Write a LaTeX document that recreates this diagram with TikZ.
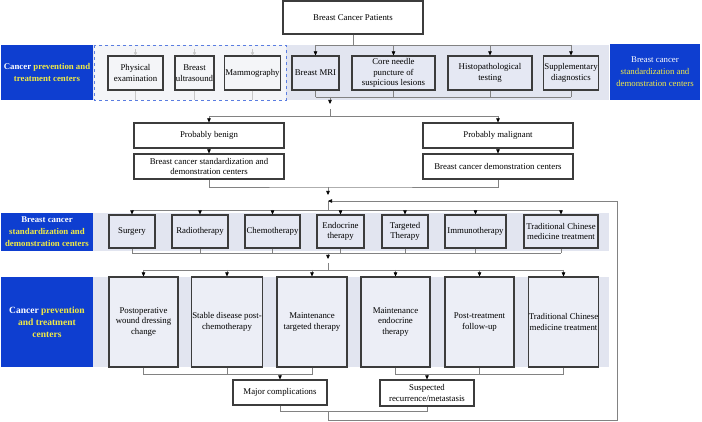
\documentclass[tikz,border=0pt]{standalone}
\usepackage{fontspec}
\setmainfont{Liberation Serif}
\usetikzlibrary{arrows.meta,calc}

\definecolor{lblblue}{RGB}{14,62,208}
\definecolor{lblyellow}{RGB}{240,234,70}
\definecolor{bandgray}{RGB}{226,229,240}
\definecolor{boxfill}{RGB}{229,232,243}
\definecolor{boxfilltwo}{RGB}{236,238,246}
\definecolor{palefill}{RGB}{244,245,248}
\definecolor{dashblue}{RGB}{90,125,225}
\definecolor{edgegray}{RGB}{60,60,60}
\definecolor{linegray}{RGB}{130,130,130}
\newcommand{\wt}[1]{\textcolor{white}{#1}}
\newcommand{\yl}[1]{\textcolor{lblyellow}{#1}}

\begin{document}
\begin{tikzpicture}[x=1pt,y=-1pt,
	box/.style={draw=edgegray,line width=1.1pt,align=center,inner sep=0.5pt,font=\fontsize{8.8}{10.5}\selectfont},
	whitebox/.style={box,fill=white},
	bandbox/.style={box,fill=boxfill},
	tallbox/.style={box,fill=boxfilltwo,minimum height=90pt},
	palebox/.style={box,fill=palefill},
	lbl/.style={fill=lblblue,align=center,inner sep=1pt,font=\fontsize{8.8}{12}\selectfont},
	conn/.style={draw=linegray,line width=0.6pt},
	faint/.style={draw=linegray!45,line width=0.6pt},
	arr/.style={conn,arrows={-Triangle[length=4pt,width=3.5pt,color=black]}},
	faintarr/.style={faint,arrows={-Triangle[length=3pt,width=3pt,color=linegray!45]}}
	]
	\useasboundingbox (0,0) rectangle (702,422);

	% background bands
	\fill[bandgray] (93,45) rectangle (609,100);
	\fill[palefill] (94,45) rectangle (286,100);
	\draw[dashblue,dashed,line width=0.9pt] (94,45) rectangle (286,100);
	\fill[bandgray] (93,213) rectangle (609,251);
	\fill[bandgray] (93,277) rectangle (609,367);

	% side labels
	\node[lbl,minimum width=92pt,minimum height=55pt] (lblA) at (47,72.5) {\textbf{\wt{Cancer} \yl{prevention and}}\\\textbf{\yl{treatment centers}}};
	\node[lbl,minimum width=90pt,minimum height=56pt] (lblB) at (655,72) {\wt{Breast cancer}\\\yl{standardization and}\\\yl{demonstration centers}};
	\node[lbl,minimum width=92pt,minimum height=38pt] (lblC) at (47,232) {\textbf{\wt{Breast cancer}}\\\textbf{\yl{standardization and}}\\\textbf{\yl{demonstration centers}}};
	\node[lbl,minimum width=92pt,minimum height=90pt,font=\fontsize{9.5}{12}\selectfont] (lblD) at (47,322) {\textbf{\wt{Cancer} \yl{prevention}}\\\textbf{\yl{and treatment}}\\\textbf{\yl{centers}}};

	% diagnosis
	\node[whitebox,minimum width=140pt,minimum height=33pt] (pat) at (353,17.5) {Breast Cancer Patients};
	\node[palebox,minimum width=55pt,minimum height=34pt] (pe) at (135.5,73) {Physical\\examination};
	\node[palebox,minimum width=39pt,minimum height=34pt] (bu) at (194.5,73) {Breast\\ultrasound};
	\node[palebox,minimum width=53pt,minimum height=34pt] (mg) at (252.5,73) {Mammography};
	\node[bandbox,minimum width=47pt,minimum height=34pt] (mri) at (315.5,73) {Breast MRI};
	\node[bandbox,minimum width=83pt,minimum height=34pt] (cn) at (393.5,73) {Core needle\\puncture of\\suspicious lesions};
	\node[bandbox,minimum width=84pt,minimum height=34pt] (hp) at (490,73) {Histopathological\\testing};
	\node[bandbox,minimum width=54pt,minimum height=34pt] (sd) at (571,73) {Supplementary\\diagnostics};

	\node[whitebox,minimum width=150pt,minimum height=25pt] (pb) at (209,135.5) {Probably benign};
	\node[whitebox,minimum width=150pt,minimum height=25pt] (pbc) at (209,166.5) {Breast cancer standardization and\\demonstration centers};
	\node[whitebox,minimum width=150pt,minimum height=25pt] (pm) at (498,135.5) {Probably malignant};
	\node[whitebox,minimum width=150pt,minimum height=25pt] (pmc) at (498,166.5) {Breast cancer demonstration centers};

	% treatment
	\node[bandbox,minimum width=46pt,minimum height=33pt] (sg) at (132,231.5) {Surgery};
	\node[bandbox,minimum width=56pt,minimum height=33pt] (rt) at (200,231.5) {Radiotherapy};
	\node[bandbox,minimum width=55pt,minimum height=33pt] (ch) at (272.5,231.5) {Chemotherapy};
	\node[bandbox,minimum width=47pt,minimum height=33pt] (en) at (340.5,231.5) {Endocrine\\therapy};
	\node[bandbox,minimum width=46pt,minimum height=33pt] (tt) at (405,231.5) {Targeted\\Therapy};
	\node[bandbox,minimum width=61pt,minimum height=33pt] (im) at (475.5,231.5) {Immunotherapy};
	\node[bandbox,minimum width=74pt,minimum height=33pt] (tcmA) at (561,231.5) {Traditional Chinese\\medicine treatment};

	% follow-up
	\node[tallbox,minimum width=69pt] (wd) at (143.5,322) {Postoperative\\wound dressing\\change};
	\node[tallbox,minimum width=70pt] (sdc) at (227,322) {Stable disease post-\\chemotherapy};
	\node[tallbox,minimum width=70pt] (mt) at (312,322) {Maintenance\\targeted therapy};
	\node[tallbox,minimum width=69pt] (me) at (395.5,322) {Maintenance\\endocrine\\therapy};
	\node[tallbox,minimum width=69pt] (fu) at (479.5,322) {Post-treatment\\follow-up};
	\node[tallbox,minimum width=69pt] (tcmB) at (563.5,322) {Traditional Chinese\\medicine treatment};

	\node[whitebox,minimum width=94pt,minimum height=25pt] (mc) at (280,392.5) {Major complications};
	\node[whitebox,minimum width=94pt,minimum height=26pt] (sr) at (427,393) {Suspected\\recurrence/metastasis};

	% connectors: diagnosis
	\coordinate (splitA) at (353,45);
	\draw[conn] (pat.south) -- (splitA);
	\draw[conn] (mri.north |- splitA) -- (sd.north |- splitA);
	\foreach \n in {mri,cn,hp,sd}
		\draw[arr] (\n.north |- splitA) -- (\n.north);
	\foreach \n in {pe,bu,mg}{
		\draw[faintarr] ($(\n.north)+(0,-6)$) -- (\n.north);
		\draw[faint] (\n.south) -- ++(0,9);
	}
	\coordinate (mergeA) at (330,97);
	\foreach \n in {mri,cn,hp,sd}
		\draw[conn] (\n.south) -- (\n.south |- mergeA);
	\draw[conn] (mri.south |- mergeA) -- (sd.south |- mergeA);
	\coordinate (tipA) at (330,104);
	\draw[arr] (mergeA) -- (tipA);
	\coordinate (splitB) at (330,109);
	\coordinate (forkB) at (330,116);
	\draw[conn] (splitB) -- (forkB);
	\draw[arr] (forkB) -| (pb.north);
	\draw[arr] (forkB) -| (pm.north);
	\draw[arr] (pb) -- (pbc);
	\draw[arr] (pm) -- (pmc);

	% connectors: treatment
	\coordinate (mergeB) at (328,187);
	\coordinate (tipB) at (328,195);
	\coordinate (loopin) at (328,201);
	\coordinate (forkC) at (328,210);
	\draw[conn] (pbc.south) |- (mergeB) -| (pmc.south);
	\draw[arr] (mergeB) -- (tipB);
	\draw[conn] (loopin) -- (forkC);
	\draw[conn] (sg.north |- forkC) -- (tcmA.north |- forkC);
	\foreach \n in {sg,rt,ch,en,tt,im,tcmA}{
		\draw[arr] (\n.north |- forkC) -- (\n.north);
		\draw[conn] (\n.south) -- ++(0,4.5);
	}
	\coordinate (mergeC) at (328,253);
	\draw[conn] (sg.south |- mergeC) -- (tcmA.south |- mergeC);
	\coordinate (tipC) at (328,259);
	\draw[arr] (mergeC) -- (tipC);

	% connectors: follow-up
	\coordinate (splitD) at (328,263);
	\coordinate (forkD) at (328,270);
	\draw[conn] (splitD) -- (forkD);
	\draw[conn] (wd.north |- forkD) -- (tcmB.north |- forkD);
	\foreach \n in {wd,sdc,mt,me,fu,tcmB}{
		\draw[arr] (\n.north |- forkD) -- (\n.north);
		\draw[conn] (\n.south) -- ++(0,7);
	}
	\coordinate (mergeL) at (280,374);
	\coordinate (mergeR) at (427,374);
	\draw[conn] (wd.south |- mergeL) -- (mt.south |- mergeL);
	\draw[conn] (me.south |- mergeR) -- (tcmB.south |- mergeR);
	\draw[arr] (mergeL) -- (mc.north);
	\draw[arr] (mergeR) -- (sr.north);

	% loop back
	\coordinate (mergeE) at (328,411);
	\draw[conn] (mc.south) -- (mc.south |- mergeE) -| (sr.south);
	\draw[arr] (mergeE) -- (328,420) -- (617,420) -- (617,201) -- (loopin);
\end{tikzpicture}
\end{document}
